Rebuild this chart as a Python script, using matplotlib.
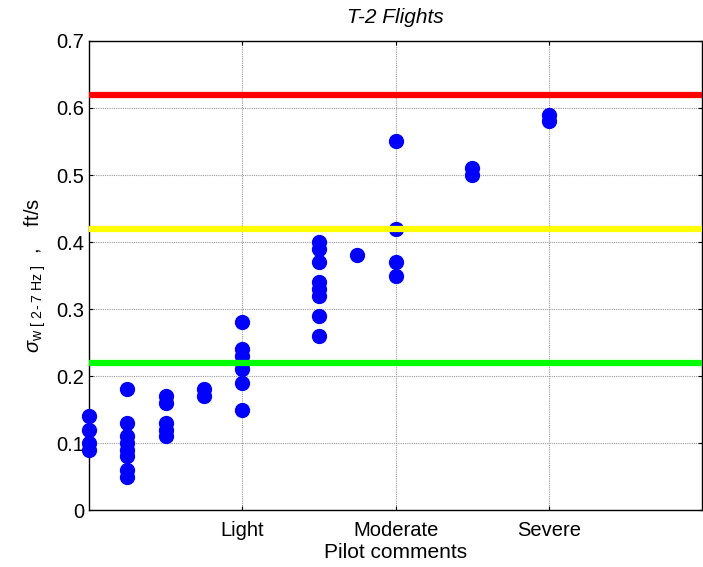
import numpy as np
import matplotlib
matplotlib.use('Agg')
import matplotlib.pyplot as plt

plt.rcParams['font.family'] = 'Liberation Sans'
plt.rcParams['mathtext.fontset'] = 'custom'
plt.rcParams['mathtext.rm'] = 'Liberation Sans'
plt.rcParams['mathtext.it'] = 'Liberation Sans:italic'

# pilot comment position (0..16, Light=4, Moderate=8, Severe=12) and sigma_w
comment = [0, 0, 0, 0,
           1, 1, 1, 1, 1, 1, 1, 1,
           2, 2, 2, 2, 2,
           3, 3,
           4, 4, 4, 4, 4, 4, 4,
           6, 6, 6, 6, 6, 6, 6, 6,
           7,
           8, 8, 8, 8,
           10, 10,
           12, 12]
sigma = [0.14, 0.12, 0.10, 0.09,
         0.18, 0.13, 0.11, 0.10, 0.09, 0.08, 0.06, 0.05,
         0.17, 0.16, 0.13, 0.12, 0.11,
         0.18, 0.17,
         0.28, 0.24, 0.23, 0.22, 0.21, 0.19, 0.15,
         0.40, 0.39, 0.37, 0.34, 0.33, 0.32, 0.29, 0.26,
         0.38,
         0.55, 0.42, 0.37, 0.35,
         0.51, 0.50,
         0.59, 0.58]

levels = [0.62, 0.42, 0.22]
level_colors = ['#ff0000', '#ffff00', '#00ff00']

tick_pos = [4, 8, 12]
tick_labels = ['Light', 'Moderate', 'Severe']

fig = plt.figure(figsize=(7.03, 5.67), dpi=100)
ax = fig.add_axes([0.1266, 0.1005, 0.8725, 0.8272])

ax.plot(comment, sigma, 'o', color='#0000ff', markersize=10, zorder=3,
        clip_on=False)
for lev, c in zip(levels, level_colors):
    ax.plot([0, 16], [lev, lev], color=c, linewidth=4.5, zorder=4)

ax.set_xlim(0, 16)
ax.set_ylim(0, 0.7)
ax.set_xticks(tick_pos)
ax.set_xticklabels(tick_labels)
ax.set_yticks(np.arange(0, 0.71, 0.1))
ax.set_yticklabels(['0', '0.1', '0.2', '0.3', '0.4', '0.5', '0.6', '0.7'])
ax.tick_params(direction='in', top=True, right=True, labelsize=14.5, length=3)
ax.tick_params(axis='x', pad=8)
ax.grid(True, linestyle=(0, (1, 1)), color='#999999', linewidth=0.8)
for s in ax.spines.values():
    s.set_linewidth(1.0)

ax.set_xlabel('Pilot comments', fontsize=15, labelpad=2)
ax.set_ylabel(r'$\sigma_{\mathrm{w\ [\ 2\,\text{-}\,7\ Hz\ ]}}$  ,    ft/s',
              fontsize=14.5, labelpad=6)
ax.set_title('T-2 Flights', fontsize=15, style='italic', pad=13)

fig.savefig('out.png', dpi=100)
